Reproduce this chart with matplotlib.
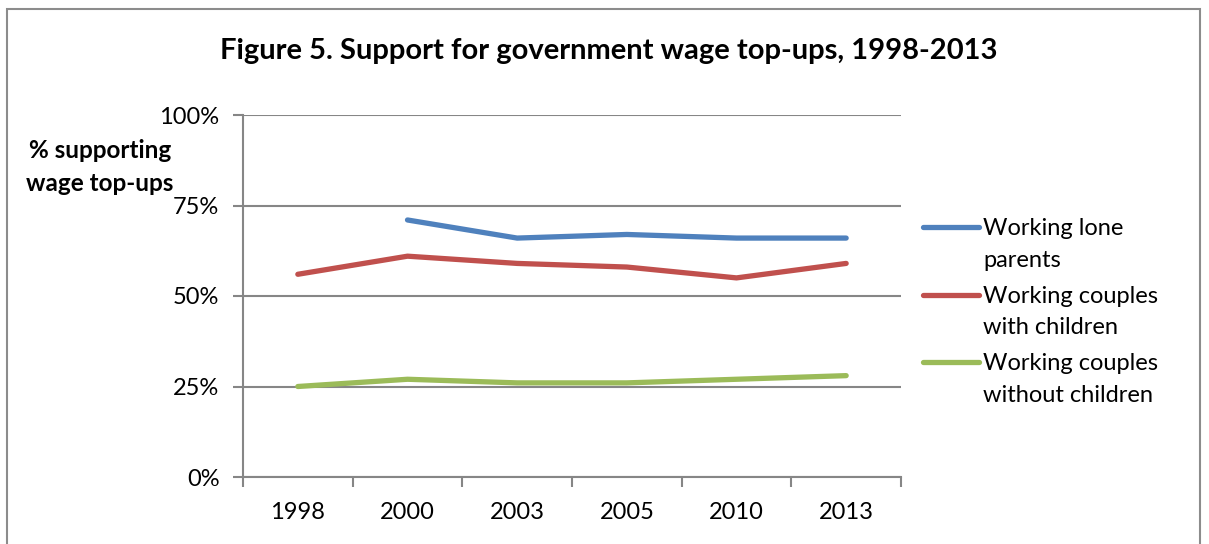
import matplotlib.pyplot as plt
from matplotlib.lines import Line2D
from matplotlib.patches import Rectangle
import numpy as np

plt.rcParams['font.family'] = ['Lato', 'DejaVu Sans']

years = ["1998", "2000", "2003", "2005", "2010", "2013"]
lone_parents = [np.nan, 71, 66, 67, 66, 66]
couples_children = [56, 61, 59, 58, 55, 59]
couples_no_children = [25, 27, 26, 26, 27, 28]

series_names = ["Working lone\nparents", "Working couples\nwith children", "Working couples\nwithout children"]
colors = ["#4F81BD", "#C0504D", "#9BBB59"]
grid_col = "#868686"

W, H = 1209, 544
fig = plt.figure(figsize=(W / 100, H / 100), dpi=100)

# outer chart frame
fig.patches.append(Rectangle((7 / W, -0.1), 1193 / W, 1 - 9 / H + 0.1, transform=fig.transFigure,
                             fill=False, edgecolor="#8C8C8C", linewidth=1.5))

ax = fig.add_axes([243 / W, 1 - 477 / H, (901 - 243) / W, (477 - 115) / H])
x = np.arange(len(years))
for vals, c in zip([lone_parents, couples_children, couples_no_children], colors):
    ax.plot(x, vals, color=c, linewidth=3.8, solid_capstyle="round", solid_joinstyle="round", zorder=3)

ax.set_xlim(-0.5, len(years) - 0.5)
ax.set_ylim(0, 100)
ax.set_yticks([0, 25, 50, 75, 100])
ax.set_yticklabels(["0%", "25%", "50%", "75%", "100%"])
ax.yaxis.grid(True, color=grid_col, linewidth=1.5)
ax.set_axisbelow(True)
ax.set_xticks(x)
ax.set_xticklabels(years)
ax.set_xticks(np.arange(-0.5, len(years)), minor=True)
ax.tick_params(axis="x", which="major", length=0, pad=18, labelsize=17)
ax.tick_params(axis="x", which="minor", length=7, width=1.5, color=grid_col)
ax.tick_params(axis="y", length=7, width=1.5, color=grid_col, pad=10, labelsize=17)
for s in ["top", "right"]:
    ax.spines[s].set_visible(False)
for s in ["left", "bottom"]:
    ax.spines[s].set_color(grid_col)
    ax.spines[s].set_linewidth(1.5)

fig.text(609 / W, 1 - 51 / H, "Figure 5. Support for government wage top-ups, 1998-2013",
         ha="center", va="center", fontsize=21, fontweight="bold")
fig.text(100 / W, 1 - 167 / H, "% supporting\nwage top-ups", ha="center", va="center",
         fontsize=17.5, fontweight="bold", linespacing=1.55)

# legend, handle level with the first line of each label
for i, (name, c) in enumerate(zip(series_names, colors)):
    y_px = 227 + i * 67.5
    y0 = 1 - y_px / H
    fig.add_artist(Line2D([923 / W, 979 / W], [y0, y0], transform=fig.transFigure,
                          color=c, linewidth=3.8, solid_capstyle="round"))
    # baseline alignment uses the last line, so drop by one line step
    fig.text(983 / W, 1 - (y_px + 8 + 32) / H, name, ha="left", va="baseline", fontsize=17,
             linespacing=1.62)

fig.savefig("out.png", dpi=100)
